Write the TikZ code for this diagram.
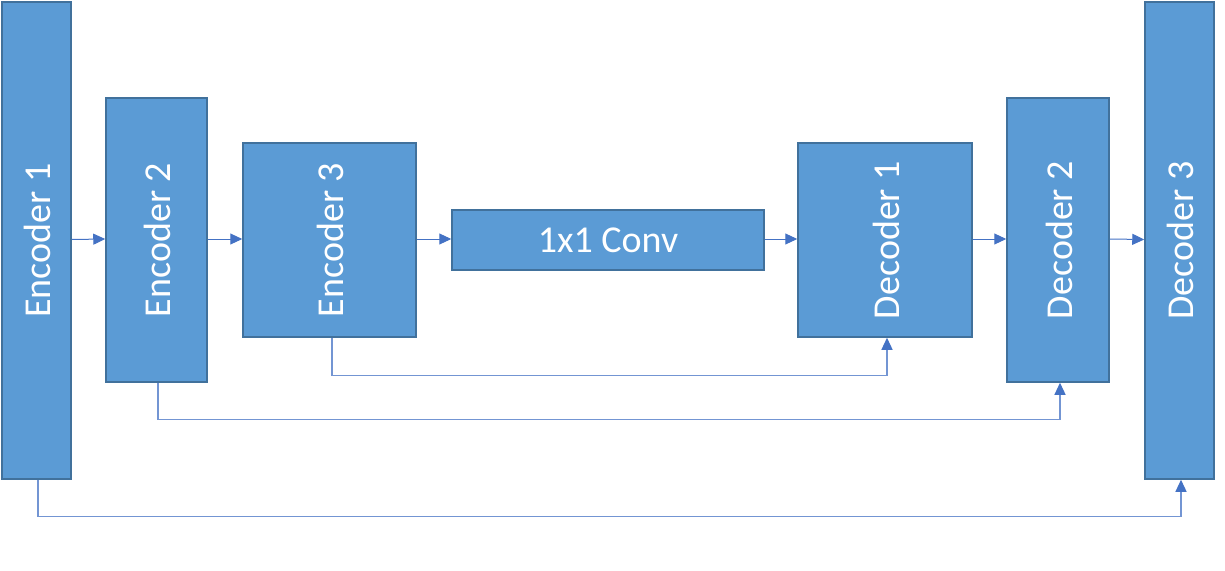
\documentclass[tikz,border=0pt]{standalone}
\usepackage{fontspec}
\setmainfont{Carlito}
\usetikzlibrary{arrows.meta}
\definecolor{boxfill}{HTML}{5B9BD5}
\definecolor{boxline}{HTML}{41719C}
\definecolor{conn}{HTML}{4472C4}
\begin{document}
\begin{tikzpicture}[x=1pt,y=-1pt,
  block/.style={draw=boxline,fill=boxfill,line width=1.5pt,text=white,inner sep=0pt,
    font=\fontsize{38}{44}\selectfont},
  vlabel/.style={text=white,inner sep=0pt,font=\fontsize{38}{44}\selectfont,rotate=90},
  flow/.style={draw=conn,line width=1pt,-{Triangle[length=12pt,width=11pt]}},
  skip/.style={draw=conn!75,line width=1.2pt,-{Triangle[length=12pt,width=11pt,fill=conn,color=conn]}}]
\useasboundingbox (0,0) rectangle (1225,570);
\node[block,minimum width=69pt,minimum height=477pt] (enc1) at (36.5,240.5) {};
\node[vlabel] (t1) at ([xshift=1pt]enc1.center) {Encoder 1};
\node[block,minimum width=101pt,minimum height=284pt] (enc2) at (156.5,240) {};
\node[vlabel] (t2) at ([xshift=1pt]enc2.center) {Encoder 2};
\node[block,minimum width=173pt,minimum height=194pt] (enc3) at (329.5,240) {};
\node[vlabel] (t3) at ([xshift=1pt]enc3.center) {Encoder 3};
\node[block,minimum width=312pt,minimum height=60pt] (conv) at (608,240) {1x1 Conv};
\node[block,minimum width=174pt,minimum height=194pt] (dec1) at (885,240) {};
\node[vlabel] (t4) at ([xshift=1pt]dec1.center) {Decoder 1};
\node[block,minimum width=102pt,minimum height=284pt] (dec2) at (1058,240) {};
\node[vlabel] (t5) at ([xshift=1pt]dec2.center) {Decoder 2};
\node[block,minimum width=69pt,minimum height=477pt] (dec3) at (1179.5,240.5) {};
\node[vlabel] (t6) at ([xshift=1pt]dec3.center) {Decoder 3};
% main flow
\draw[flow] ([yshift=1pt]enc1.east) -- ([yshift=1pt]enc2.west);
\draw[flow] ([yshift=1pt]enc2.east) -- ([yshift=1pt]enc3.west);
\draw[flow] ([yshift=1pt]enc3.east) -- ([yshift=1pt]conv.west);
\draw[flow] ([yshift=1pt]conv.east) -- ([yshift=1pt]dec1.west);
\draw[flow] ([yshift=1pt]dec1.east) -- ([yshift=1pt]dec2.west);
\draw[flow] ([yshift=1pt]dec2.east) -- ([yshift=1pt]dec3.west);
% skip connections
\draw[skip] ([xshift=2.5pt]enc3.south) -- ++(0,38) -| ([xshift=2pt]dec1.south);
\draw[skip] ([xshift=1.5pt]enc2.south) -- ++(0,37) -| ([xshift=2pt]dec2.south);
\draw[skip] ([xshift=1.5pt]enc1.south) -- ++(0,37) -| ([xshift=1.5pt]dec3.south);
\end{tikzpicture}
\end{document}
